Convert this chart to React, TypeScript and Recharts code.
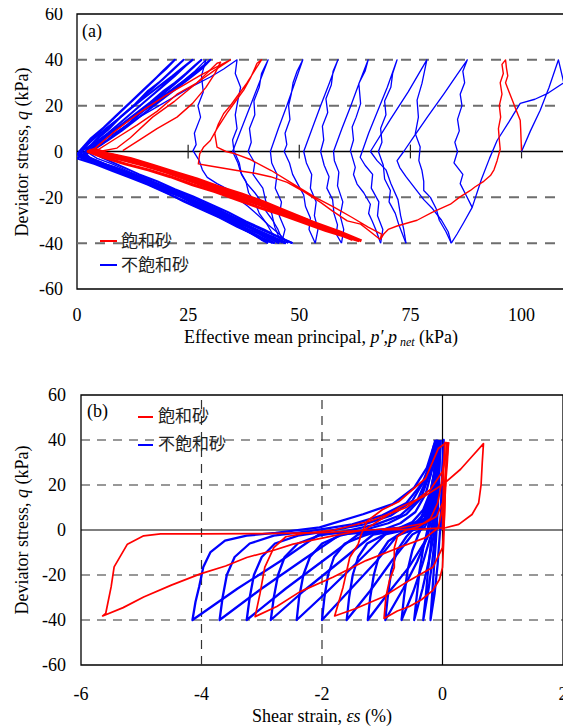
import React from 'react';
import { LineChart, Line, XAxis, YAxis, ReferenceLine, ReferenceArea } from 'recharts';

type Pt = [number, number];

// ---------- panel (a): p', p_net (kPa) vs q (kPa) ----------
const aXTicks = [0, 25, 50, 75, 100];
const qTicks = [-60, -40, -20, 0, 20, 40, 60];
const qDashes = [-40, -20, 20, 40];
const aZeroTicks = [25, 50, 75, 100];

// unsaturated sand (blue)
const aBlueFirst: Pt[] = [[100,0],[102,9],[104.2,18],[106.2,28],[108.3,40],[109.5,30],[106,25.5],[103,22.8],[99.7,21],[97.2,13],[94.5,4.8],[92.8,-3],[91,-12],[88.9,-24.4],[87,-31],[85.5,-36],[84.2,-40]];
const aBlueCyc1: Pt[] = [[45,-40],[44,-36],[42.5,-31],[41,-27],[40,-22],[38.6,-18],[38,-13],[36.8,-9],[36.2,-5],[35,0],[37,10],[39,20],[41,30],[43,40],[41.5,34],[41,28],[39.8,22],[40,16],[38.8,10],[39.2,4],[38.5,0],[40,-5],[39.6,-10],[41.8,-16],[42.5,-22],[43.8,-27],[44.5,-33],[46,-40]];
const aBlueCyc2: Pt[] = [[46,-40],[46.8,-34],[45.5,-28],[46,-22],[44.6,-16],[45,-10],[43.8,-5],[43.5,0],[45.3,10],[47.2,20],[49,30],[50.8,40],[49.5,35],[48.6,30],[48.2,25],[47.6,20],[47.9,14],[46.8,8],[47.2,3],[46.6,0],[47.8,-5],[48.5,-10],[49.6,-14],[51,-19],[51.4,-24],[52.5,-29],[52.2,-34],[53.6,-40]];
const aBlueCyc3: Pt[] = [[53.6,-40],[54.2,-34],[53.4,-28],[53.8,-22],[52.5,-16],[52.8,-10],[51.6,-5],[51,0],[52.9,10],[54.8,20],[56.8,30],[58.7,40],[57.6,35],[57.2,29],[56,23],[56.4,17],[55.2,11],[55.5,5],[54.8,0],[55.6,-6],[56.7,-11],[56.2,-16],[57.5,-21],[57.8,-27],[58.6,-32],[58.3,-36],[59.5,-40]];
const aBlueCyc4: Pt[] = [[59.5,-40],[60,-34],[59.2,-28],[59.8,-22],[58.6,-15],[58.9,-9],[57.9,-4],[57.7,0],[59.6,10],[61.6,20],[63.5,30],[65.5,40],[64.8,35],[63.4,29.7],[63.8,20.9],[62.8,15],[61.9,10.7],[62.2,5],[61.5,0.4],[62.6,-6.9],[62.2,-10],[63,-14.2],[64.5,-18],[66,-23],[65.6,-27],[66.4,-30.3],[67.2,-34],[68.3,-40]];
const aBlueCyc5: Pt[] = [[68.3,-40],[68.8,-34],[67.6,-28],[67.9,-22],[66.2,-16],[66.5,-10],[64.8,-6],[63.7,-2.5],[65.6,8],[67.7,18],[69.8,28],[72,40],[71,34],[70.6,28],[69.2,22],[69.5,16],[68.3,10],[68.6,4],[67.8,0],[68.9,-6],[69.2,-12],[70.5,-17],[70.2,-22],[71.6,-27],[72.4,-32],[73.2,-36],[74,-40]];
const aBlueCyc6: Pt[] = [[74,-40],[73.5,-34],[72.8,-28],[72.2,-21],[70.6,-14],[69.5,-8],[67.5,-4],[66,0],[70.5,14],[74.5,26],[78.7,40],[77.6,29.7],[76.5,22.4],[76.8,15],[76.1,7.8],[77.2,2],[76.9,-4],[77.6,-8.3],[78,-13],[78,-17],[79.5,-20],[80.8,-25],[81.5,-30],[83,-35],[84.2,-40]];
const aBlueCyc7: Pt[] = [[84.2,-40],[83.5,-35],[82,-30],[80,-25],[78,-21],[76,-16],[74,-11],[72.6,-7],[72,-4],[73.5,0],[75.7,6.3],[79,15.5],[82.5,25],[85.5,33.5],[87.8,40],[86.8,35],[87.2,30],[86.2,25],[86.6,20],[85.6,14],[86,9],[85,4],[85.6,0],[84.8,-5],[86.8,-10],[86.2,-14],[87.5,-19],[88.9,-24.4]];
const aBlueMid1: Pt[] = [[43,-40],[40,-36.5],[36,-33],[32,-29],[28,-25.5],[24,-22],[20,-18],[16,-14.5],[12,-11],[8,-7.5],[4.5,-4.5],[2,-1.5],[5,4],[9,10],[13,16],[17,21.5],[20.5,26],[24,31],[26.5,35],[29,40],[28,33],[28.4,26],[27.2,20],[27.8,15],[26.4,8],[26.8,3],[26.1,0.4],[27.5,-4],[28.2,-8],[29.3,-11.3],[31.5,-14],[34.5,-17],[36.5,-21],[38.5,-24],[41.3,-28.8],[43,-32],[45.5,-36],[47.5,-40]];
const aBlueMid2: Pt[] = [[47.5,-40],[44,-37],[40,-33.5],[36,-30],[32,-26],[28,-22.5],[24,-19],[20,-15.5],[16,-12],[12,-9],[8,-5.5],[4.5,-3],[2.5,-0.5],[6,5],[10,10],[14,15],[18,19.5],[22,24],[26,28.5],[30,32.5],[33,36],[36,40],[35.6,34],[36.8,28],[36.2,22.4],[35.6,16],[36,10],[35,5],[35.3,0.4],[36.5,-5],[37,-10],[38.3,-14.2],[40,-18],[41.5,-22],[42.5,-26],[44,-30],[45.2,-34],[46.5,-40]];
const aBlueDense1: Pt[] = [[44,-40],[40,-36],[36.5,-32.5],[33,-28.5],[29,-25],[25,-21],[21,-17],[17,-14],[13,-10.5],[9,-7.5],[5,-4.5],[1.5,-2],[0.5,0],[3,5.5],[6,10.5],[9,16],[12,21.5],[15,27],[18,32.5],[20,36],[22,40],[19.5,35.5],[17,30.5],[14,25],[11,19.5],[8,14],[5,8.5],[2,2.5],[0.5,-1.5],[4,-4],[8,-6.5],[12,-9.5],[16,-12.5],[20,-15.5],[24,-18.5],[28,-22],[32,-25.5],[36,-29.5],[40,-34],[43,-37.5],[45.5,-40]];
const aBlueDense2: Pt[] = [[45.5,-40],[42,-36.5],[38.5,-33],[35,-30],[31.5,-26.5],[28,-23.5],[24,-20],[20,-16.5],[16,-13],[12,-10],[8,-7],[4.5,-4],[1.5,-1.5],[4,4.5],[7,9.5],[10,15.5],[13,20.5],[16,26.5],[19,31],[21.5,35.5],[24,40],[22,36.5],[19.5,32],[17,27.5],[14,22],[11,17],[8,12],[5,6.5],[2.5,1.5],[1,-2.5],[5,-5],[9,-8],[13,-11],[17,-14],[21,-17],[25,-20.5],[29,-24],[33,-27.5],[37,-31],[41,-35],[44,-38],[47,-40]];
const aBlueDense3: Pt[] = [[47,-40],[43.5,-37],[40,-34],[36.5,-31.5],[33,-28],[29.5,-25],[26,-22],[22,-18.5],[18,-15.5],[14,-12],[10,-9],[6,-6],[2.5,-3],[1,0.5],[3.5,5],[6.5,10],[9.5,14.5],[12.5,19.5],[15.5,24],[18.5,28.5],[21.5,33],[24,37],[26,40],[24.5,37.5],[22,33],[19,28],[16,23],[13,18],[10,13],[7,8],[4,3.5],[1.5,-1],[0,-3],[4,-5.5],[8,-8.5],[12,-11.5],[16,-14.5],[20,-18],[24,-21.5],[28,-25],[32,-28.5],[36,-32.5],[39.5,-36],[42,-38.5],[44.5,-40]];
const aBlueDense4: Pt[] = [[44.5,-40],[41,-36],[37.5,-33],[34,-29.5],[30,-26.5],[26.5,-23],[23,-19.5],[19,-16.5],[15,-13],[11,-10],[7,-7],[3.5,-4],[2,-1],[4.5,3.5],[7.5,8],[10.5,12.5],[13.5,17],[16.5,21.5],[19.5,26.5],[22,30],[24.5,34],[26.5,37.5],[28,40],[26,36.5],[23.5,32],[20.5,27],[17.5,22],[14.5,17],[11.5,12],[8.5,7.5],[5.5,3],[3,0],[6,-3],[10,-6.5],[14,-10],[18,-13],[22,-16.5],[26,-19.5],[30,-23],[34,-26.5],[38,-30.5],[42,-34],[45.5,-37.5],[48.5,-40]];
const aBlueDense5: Pt[] = [[48.5,-40],[45,-37],[41.5,-34],[38,-31],[34.5,-28],[31,-25],[27.5,-22.5],[24,-20],[20,-17],[16,-14],[12,-11],[8,-8],[4,-5],[1,-3],[0,-1],[3,2.5],[6.5,7],[10,11.5],[13.5,16],[17,20.5],[20.5,25.5],[23.5,30],[26.5,34.5],[28.5,37.5],[30,40],[28,36],[25,31.5],[22,27],[19,22.5],[16,18],[13,13.5],[10,9],[7,5],[4,1.5],[1.5,-2],[4.5,-4.5],[8.5,-7],[12.5,-10],[16.5,-13],[20.5,-16.5],[24.5,-20],[28.5,-24],[32.5,-28],[36,-32],[39,-35.5],[41.5,-38.5],[43,-40]];

// saturated sand (red)
const aRedFirst: Pt[] = [[100,0.5],[99.9,5],[99.8,10],[99.7,13.6],[98.8,18],[98,22],[97.2,26],[96.4,30],[96.9,33],[96.6,36.5],[96.4,40],[95.6,38],[95.9,34],[95.2,30],[95.6,25],[95,20],[95.3,15],[94.8,10],[95,5],[95.2,1],[94.5,-4],[93.8,-8],[93,-10.5],[91.5,-13],[89.5,-15.5],[88.5,-17],[86,-20],[84,-23],[80,-26.5],[76.5,-30],[72,-32.5],[70,-34],[69,-36],[68.2,-38.4]];
const aRedSecond: Pt[] = [[68.2,-38.4],[66,-35],[63.8,-31.7],[60.8,-30.3],[57.5,-26],[54.8,-22.2],[51,-17.5],[47.3,-13.5],[43.5,-11],[40,-9.5],[36,-8.3],[32,-7],[29,-6],[27.3,-5.4],[27.6,-1],[28.5,2],[30,4.8],[31.5,10],[33.7,16.6],[35.5,21.5],[37.5,26.8],[39,32],[40.5,38.5],[41.5,40],[40.2,36],[38.2,29.8],[36,24],[34.5,20],[33,16.6],[31.8,12],[31,7.8],[31.5,1.9],[33.5,0],[35.6,-1],[39,-3.5],[43.7,-8.3],[48.5,-14],[53.6,-20],[58,-24.5],[61.9,-28.8],[65.5,-33],[68.5,-36.1],[68.2,-38.4]];
const aRedBand1: Pt[] = [[64,-39],[59,-35],[54,-31.5],[49,-28],[44,-24.5],[39,-21],[34,-17.5],[29,-14.5],[24,-11],[19,-7.5],[14,-4.5],[9,-2],[5,-0.5],[3,0.5],[5,-1.5],[10,-3.5],[15,-6],[20,-9],[25,-12.5],[30,-16],[35,-19.5],[40,-22.5],[45,-26],[50,-29.5],[55,-33],[60,-36.5],[63,-38.5]];
const aRedBand2: Pt[] = [[62,-38.5],[57,-34.5],[52,-30],[47,-26],[42,-22],[37,-18.5],[32,-15.5],[27,-12],[22,-9],[17,-6],[12,-3],[7,-1],[4,1],[2.5,0],[6,-2.5],[11,-5.5],[16,-8],[21,-11],[26,-14.5],[31,-17.5],[36,-21],[41,-24.5],[46,-27.5],[51,-31],[56,-34.5],[61,-37.5],[63.5,-39]];
const aRedUpper1: Pt[] = [[3,0.5],[4.5,0.5],[9,6],[13.5,11.5],[18,17.5],[22.5,25],[27,30],[31,35.5],[34.5,40],[32,37.5],[28,33.5],[24,29],[20,24.5],[16,19.5],[12,14],[8,8],[5,3],[3.5,0.5]];
const aRedUpper2: Pt[] = [[10.3,0.4],[14,5],[18,10],[22.5,15],[26,21],[29,28],[31,34],[32.3,39],[31.5,38.5],[27,30],[22,22],[17,15],[12,6],[9,1.5],[5,0]];

const aBlueThin = [aBlueFirst, aBlueCyc1, aBlueCyc2, aBlueCyc3, aBlueCyc4, aBlueCyc5, aBlueCyc6, aBlueCyc7, aBlueMid1, aBlueMid2];
const aBlueThick = [aBlueDense1, aBlueDense2, aBlueDense3, aBlueDense4, aBlueDense5];
const aRedThin = [aRedFirst, aRedSecond, aRedUpper1, aRedUpper2];
const aRedThick = [aRedBand1, aRedBand2];

// ---------- panel (b): shear strain (%) vs q (kPa) ----------
const bXTicks = [-6, -4, -2, 0, 2];
const bXDashes = [-4, -2];

const bBlue1: Pt[] = [[0,0],[0.01,12],[0,25],[0.02,40],[0,30],[-0.02,15],[-0.04,0],[-0.08,-15],[-0.13,-28],[-0.2,-40],[-0.17,-28],[-0.14,-16],[-0.11,-5],[-0.08,8],[-0.06,22],[-0.03,40]];
const bBlue2: Pt[] = [[-0.03,40],[-0.05,30],[-0.07,18],[-0.1,6],[-0.12,-2],[-0.17,-14],[-0.23,-26],[-0.32,-40],[-0.28,-30],[-0.24,-18],[-0.2,-8],[-0.16,2],[-0.12,14],[-0.08,28],[-0.05,40]];
const bBlue3: Pt[] = [[-0.05,40],[-0.07,30],[-0.1,16],[-0.13,4],[-0.15,-3],[-0.23,-14],[-0.33,-26],[-0.47,-40],[-0.43,-30],[-0.38,-18],[-0.32,-8],[-0.25,0],[-0.18,10],[-0.12,24],[-0.07,40]];
const bBlue4: Pt[] = [[-0.07,40],[-0.09,28],[-0.13,14],[-0.17,3],[-0.2,-3],[-0.33,-15],[-0.48,-27],[-0.68,-40],[-0.64,-30],[-0.58,-18],[-0.5,-9],[-0.4,-2],[-0.3,4],[-0.2,12],[-0.13,24],[-0.08,40]];
const bBlue5: Pt[] = [[-0.08,40],[-0.1,26],[-0.15,12],[-0.2,3],[-0.25,-3],[-0.42,-14],[-0.65,-26],[-0.95,-40],[-0.91,-30],[-0.85,-18],[-0.75,-9],[-0.6,-3],[-0.45,1.5],[-0.3,7],[-0.2,16],[-0.12,28],[-0.06,40]];
const bBlue6: Pt[] = [[-0.06,40],[-0.1,25],[-0.16,10],[-0.22,2],[-0.25,-3.4],[-0.56,-16.6],[-0.9,-28],[-1.24,-40],[-1.2,-30],[-1.14,-20],[-1.05,-11],[-0.9,-5],[-0.7,-1.5],[-0.5,1.5],[-0.35,6],[-0.22,14],[-0.13,26],[-0.06,40]];
const bBlue7: Pt[] = [[-0.06,40],[-0.1,24],[-0.17,8],[-0.3,1],[-0.5,-2],[-0.85,-14],[-1.2,-27],[-1.59,-40],[-1.55,-30],[-1.49,-20],[-1.4,-12],[-1.25,-6],[-1,-2.5],[-0.75,0.5],[-0.5,3.5],[-0.32,9],[-0.2,17],[-0.12,28],[-0.07,40]];
const bBlue8: Pt[] = [[-0.07,40],[-0.1,22],[-0.18,7],[-0.35,1],[-0.6,-1],[-0.75,-2.5],[-1.1,-14],[-1.55,-27],[-2,-40],[-1.96,-30],[-1.9,-20],[-1.8,-12],[-1.62,-6],[-1.3,-2.5],[-1,0],[-0.7,3],[-0.45,8],[-0.28,16],[-0.16,28],[-0.08,40]];
const bBlue9: Pt[] = [[-0.08,40],[-0.11,22],[-0.2,6],[-0.4,1],[-0.7,-0.5],[-0.95,-2],[-1.4,-14],[-1.9,-27],[-2.42,-40],[-2.38,-30],[-2.31,-20],[-2.2,-12],[-2,-6],[-1.7,-2.5],[-1.3,0],[-0.9,3],[-0.6,7],[-0.36,14],[-0.2,26],[-0.09,40]];
const bBlue10: Pt[] = [[-0.09,40],[-0.12,22],[-0.22,6],[-0.45,1],[-0.8,-0.5],[-1.15,-2],[-1.7,-14],[-2.3,-27],[-2.85,-40],[-2.8,-30],[-2.73,-20],[-2.62,-12],[-2.4,-6],[-2.05,-2.5],[-1.6,-0.5],[-1.1,2.5],[-0.7,6.5],[-0.42,13],[-0.24,24],[-0.1,40]];
const bBlue11: Pt[] = [[-0.1,40],[-0.13,22],[-0.25,5],[-0.5,1],[-1,-0.8],[-1.4,-2],[-1.95,-13],[-2.6,-26],[-3.25,-40],[-3.2,-30],[-3.13,-20],[-3,-12],[-2.78,-6],[-2.4,-2.5],[-1.9,-0.5],[-1.3,2.5],[-0.85,6.5],[-0.5,13],[-0.28,23],[-0.12,40]];
const bBlue12: Pt[] = [[-0.12,40],[-0.14,22],[-0.28,5],[-0.6,1],[-1.2,-0.8],[-1.7,-2],[-2.3,-13],[-3,-26],[-3.7,-40],[-3.65,-30],[-3.58,-20],[-3.45,-12],[-3.2,-6],[-2.8,-2.5],[-2.2,-0.5],[-1.5,2.5],[-1,6.5],[-0.6,12],[-0.33,21],[-0.17,32],[-0.1,40]];
const bBlue13: Pt[] = [[-0.1,40],[-0.15,20],[-0.3,5],[-0.7,1],[-1.4,-0.8],[-2.04,-1.8],[-2.7,-14],[-3.4,-26],[-4.15,-40],[-4.1,-32],[-4.04,-25.3],[-3.97,-16.4],[-3.85,-9.8],[-3.61,-4.7],[-3.25,-2.5],[-2.77,-1.3],[-2.04,1.2],[-1.32,7],[-0.83,11.5],[-0.47,18.8],[-0.26,27.6],[-0.14,37.9],[-0.08,40]];

const bRed1: Pt[] = [[0,0],[0.01,12],[0.02,26],[0.04,39],[0.02,30],[-0.02,20],[-0.08,12],[-0.2,5],[-0.4,1.5],[-0.6,0],[-0.75,-3],[-0.8,-8],[-0.8,-16.6],[-0.88,-22.4],[-0.94,-29.8],[-0.97,-39.3],[-0.75,-36],[-0.55,-34],[-0.35,-31],[-0.16,-26.8],[-0.05,-22],[0,-16.6],[0.02,-5],[0.03,5],[0.05,20],[0.07,39]];
const bRed2: Pt[] = [[0.07,39],[-0.07,36.2],[-0.28,23],[-0.72,12.7],[-1,9],[-1.25,4],[-1.35,-2],[-1.4,-6.3],[-1.54,-12.2],[-1.65,-25.4],[-1.79,-38.2],[-1.45,-35],[-0.99,-29.8],[-0.55,-22.4],[-0.16,-16.6],[0,-7.8],[0.03,5],[0.05,20],[0.08,39]];
const bRed3: Pt[] = [[0.08,39],[0.05,32],[0,26],[-0.2,18],[-0.6,10],[-1.2,4],[-1.8,0],[-2.3,-1.5],[-2.6,-3],[-2.8,-7.8],[-2.95,-16.6],[-3.03,-28.4],[-3.11,-38.5],[-2.75,-34],[-2.37,-27.5],[-1.82,-21],[-1.27,-13.6],[-0.72,-7.8],[-0.28,-3.4],[-0.07,1],[0,10],[0.05,25],[0.1,39]];
const bRed4: Pt[] = [[0.1,39],[0.08,30],[0.05,20],[0,12],[-0.1,6],[-0.3,3],[-0.7,1],[-1.2,0],[-2,-1.2],[-3,-1.6],[-4.02,-1.7],[-4.68,-1.7],[-4.96,-2.6],[-5.23,-6.3],[-5.45,-16.4],[-5.5,-25.3],[-5.59,-37.1],[-5.64,-38.2],[-5.3,-34.5],[-4.96,-29.8],[-4.5,-24.5],[-4.02,-19.5],[-3.6,-16],[-3.25,-12.2],[-2.8,-9],[-2.48,-6.3],[-1.8,-2.5],[-1.3,0],[-0.71,10],[-0.3,15],[0.01,20.3],[0.3,27],[0.5,33],[0.68,38.4],[0.66,30],[0.64,20],[0.6,12],[0.49,6.9],[0.27,2.5],[0.05,1],[-0.3,0.5],[-1,0]];

const bBlue = [bBlue1, bBlue2, bBlue3, bBlue4, bBlue5, bBlue6, bBlue7, bBlue8, bBlue9, bBlue10, bBlue11, bBlue12, bBlue13];
const bRed = [bRed1, bRed2, bRed3, bRed4];

const BLUE = '#0000ff';
const RED = '#ff0000';
const serif = "'Liberation Serif', 'DejaVu Serif', serif";
const cjk = "'Noto Sans CJK JP', 'Noto Sans CJK SC', sans-serif";
const tickStyle = { fontSize: 18, fill: '#000', style: { fontFamily: serif } };

const toXY = (pts: Pt[]) => pts.map(([x, y]) => ({ x, y }));

function path(pts: Pt[], key: string, color: string, width: number) {
  return (
    <Line
      key={key}
      data={toXY(pts)}
      dataKey="y"
      type="linear"
      dot={false}
      activeDot={false}
      stroke={color}
      strokeWidth={width}
      strokeLinejoin="round"
      isAnimationActive={false}
    />
  );
}

const legendText = { position: 'absolute' as const, fontFamily: cjk, fontSize: 17, lineHeight: '20px', color: '#222' };
const sample = (left: number, top: number, color: string, w: number) => (
  <div style={{ position: 'absolute', left, top, width: w, height: 2, background: color }} />
);

export default function App() {
  return (
    <div style={{ position: 'relative', width: 563, height: 726, marginTop: -8, fontFamily: serif }}>
      <style>{'body{overflow:hidden}'}</style>
      <LineChart width={563} height={358} margin={{ top: 14, right: 5, bottom: 9, left: 14 }} style={{ fontFamily: serif }}>
        <XAxis type="number" dataKey="x" domain={[0, 110]} ticks={aXTicks} interval={0} allowDataOverflow
          tickLine={false} axisLine={false} height={60} tickMargin={13} tick={tickStyle} />
        <YAxis type="number" domain={[-60, 60]} ticks={qTicks} interval={0} allowDataOverflow
          tickLine={false} axisLine={false} width={55} tickMargin={8} tick={tickStyle} />
        {qDashes.map((v) => (
          <ReferenceLine key={'ad' + v} y={v} stroke="#6e6e6e" strokeWidth={2} strokeDasharray="10 8" />
        ))}
        <ReferenceLine y={0} stroke="#000" strokeWidth={1.3} />
        {aZeroTicks.map((v) => (
          <ReferenceLine key={'at' + v} segment={[{ x: v, y: -3 }, { x: v, y: 3 }]} stroke="#222" strokeWidth={1.2} />
        ))}
        {aBlueThick.map((p, i) => path(p, 'abk' + i, BLUE, 2.1))}
        {aBlueThin.map((p, i) => path(p, 'abt' + i, BLUE, 1.3))}
        {aRedThick.map((p, i) => path(p, 'ark' + i, RED, 3))}
        {aRedThin.map((p, i) => path(p, 'art' + i, RED, 1.4))}
        <ReferenceArea x1={0} x2={110} y1={-60} y2={60} fill="none" fillOpacity={0} stroke="#000" strokeWidth={1.3} />
      </LineChart>

      <LineChart width={563} height={368} margin={{ top: 37, right: 8, bottom: 0, left: 18 }} style={{ fontFamily: serif }}>
        <XAxis type="number" dataKey="x" domain={[-6, 2]} ticks={bXTicks} interval={0} allowDataOverflow
          tickLine={false} axisLine={false} height={61} tickMargin={16} tick={tickStyle} />
        <YAxis type="number" domain={[-60, 60]} ticks={qTicks} interval={0} allowDataOverflow
          tickLine={false} axisLine={false} width={55} tickMargin={9} tick={tickStyle} />
        {qDashes.map((v) => (
          <ReferenceLine key={'bd' + v} y={v} stroke="#333" strokeWidth={1.2} strokeDasharray="9 7" />
        ))}
        {bXDashes.map((v) => (
          <ReferenceLine key={'bv' + v} x={v} stroke="#333" strokeWidth={1.2} strokeDasharray="9 7" />
        ))}
        <ReferenceLine y={0} stroke="#000" strokeWidth={1.2} />
        <ReferenceLine x={0} stroke="#000" strokeWidth={1.2} />
        {bBlue.map((p, i) => path(p, 'bb' + i, BLUE, 2.3))}
        {bRed.map((p, i) => path(p, 'br' + i, RED, 1.7))}
        <ReferenceArea x1={-6} x2={2} y1={-60} y2={60} fill="none" fillOpacity={0} stroke="#000" strokeWidth={1.3} />
      </LineChart>

      <svg width={563} height={726} style={{ position: 'absolute', left: 0, top: 0, pointerEvents: 'none', overflow: 'visible' }}>
        <g fontSize={18} fill="#000" style={{ whiteSpace: 'pre', fontFamily: serif }}>
          <text transform="translate(16,152) rotate(-90)" textAnchor="middle" dominantBaseline="middle">
            Deviator stress, <tspan fontStyle="italic">q</tspan>  (kPa)
          </text>
          <text transform="translate(16,530) rotate(-90)" textAnchor="middle" dominantBaseline="middle">
            Deviator stress, <tspan fontStyle="italic">q</tspan>  (kPa)
          </text>
          <text x={313} y={339} textAnchor="middle" dominantBaseline="middle">
            Effective mean principal, <tspan fontStyle="italic">p′,p</tspan>
            <tspan fontStyle="italic" fontSize={12} dy={4}> net</tspan>
            <tspan dy={-4}>  (kPa)</tspan>
          </text>
          <text x={314} y={718} textAnchor="middle" dominantBaseline="middle">
            Shear strain,  <tspan fontStyle="italic">εs</tspan>  (%)
          </text>
          <text x={74} y={33} dominantBaseline="middle">(a)</text>
          <text x={79} y={413} dominantBaseline="middle">(b)</text>
        </g>
      </svg>

      {sample(92, 240, RED, 17)}
      <div style={{ ...legendText, left: 113, top: 230 }}>飽和砂</div>
      {sample(92, 264, BLUE, 17)}
      <div style={{ ...legendText, left: 113, top: 254 }}>不飽和砂</div>

      {sample(130, 416, RED, 15)}
      <div style={{ ...legendText, left: 150, top: 405 }}>飽和砂</div>
      {sample(130, 444, BLUE, 15)}
      <div style={{ ...legendText, left: 150, top: 433 }}>不飽和砂</div>
    </div>
  );
}
